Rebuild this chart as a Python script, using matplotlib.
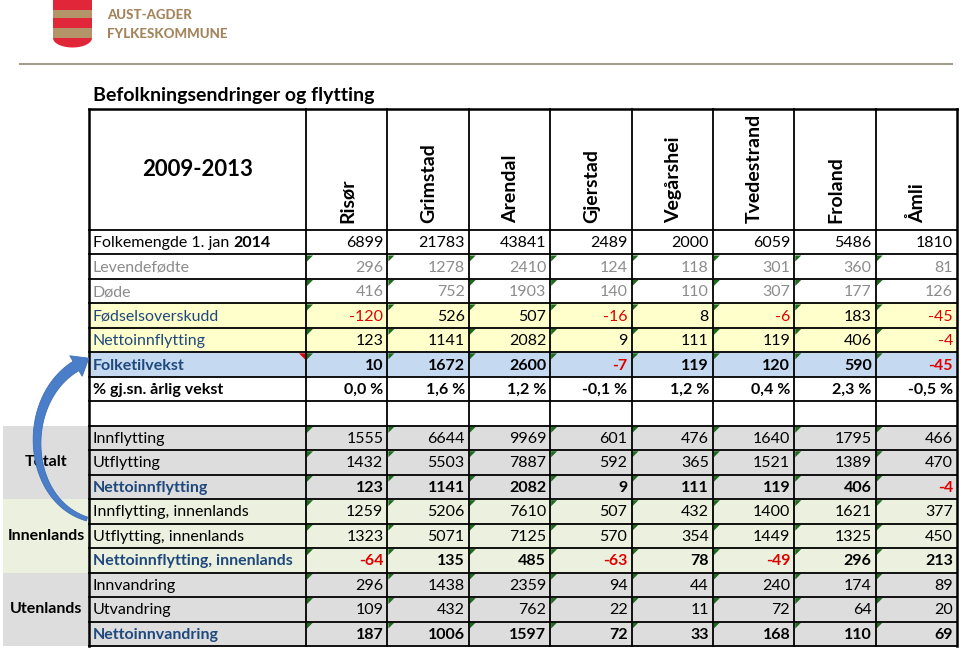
import matplotlib
matplotlib.use("Agg")
import matplotlib.pyplot as plt
from matplotlib.patches import Rectangle, Polygon
import numpy as np

# ---------------- data ----------------
municipalities = ['Risør', 'Grimstad', 'Arendal', 'Gjerstad', 'Vegårshei', 'Tvedestrand', 'Froland', 'Åmli']
period_label = '2009-2013'
title = 'Befolkningsendringer og flytting'

folkemengde = [6899, 21783, 43841, 2489, 2000, 6059, 5486, 1810]
levendefodte = [296, 1278, 2410, 124, 118, 301, 360, 81]
dode = [416, 752, 1903, 140, 110, 307, 177, 126]
fodselsoverskudd = [-120, 526, 507, -16, 8, -6, 183, -45]
nettoinnflytting = [123, 1141, 2082, 9, 111, 119, 406, -4]
folketilvekst = [10, 1672, 2600, -7, 119, 120, 590, -45]
vekst_pct = [0.0, 1.6, 1.2, -0.1, 1.2, 0.4, 2.3, -0.5]

innflytting = [1555, 6644, 9969, 601, 476, 1640, 1795, 466]
utflytting = [1432, 5503, 7887, 592, 365, 1521, 1389, 470]
netto_totalt = [123, 1141, 2082, 9, 111, 119, 406, -4]
innflytting_inn = [1259, 5206, 7610, 507, 432, 1400, 1621, 377]
utflytting_inn = [1323, 5071, 7125, 570, 354, 1449, 1325, 450]
netto_inn = [-64, 135, 485, -63, 78, -49, 296, 213]
innvandring = [296, 1438, 2359, 94, 44, 240, 174, 89]
utvandring = [109, 432, 762, 22, 11, 72, 64, 20]
netto_innvandring = [187, 1006, 1597, 72, 33, 168, 110, 69]

group_labels = ['Totalt', 'Innenlands', 'Utenlands']

# ---------------- styles ----------------
FONT = 'Lato'
plt.rcParams['font.family'] = [FONT, 'DejaVu Sans']
DARKBLUE = '#1F497D'
GRAY_TXT = '#8C8C8C'
RED = '#E00000'
YELLOW = '#FFFFCC'
BLUE_BG = '#C5D9F1'
GRAY_BG = '#DDDDDD'
GREEN_BG = '#EBF1DE'

# rows: (label, values, label_color, label_bold, value_bold, bg, value_color, fmt, red_neg, triangles)
rows = [
    ('Folkemengde 1. jan ', folkemengde, 'black', False, False, 'white', 'black', 'int', True, False),
    ('Levendefødte', levendefodte, GRAY_TXT, False, False, 'white', GRAY_TXT, 'int', True, True),
    ('Døde', dode, GRAY_TXT, False, False, 'white', GRAY_TXT, 'int', True, True),
    ('Fødselsoverskudd', fodselsoverskudd, DARKBLUE, False, False, YELLOW, 'black', 'int', True, True),
    ('Nettoinnflytting', nettoinnflytting, DARKBLUE, False, False, YELLOW, 'black', 'int', True, True),
    ('Folketilvekst', folketilvekst, DARKBLUE, True, True, BLUE_BG, 'black', 'int', True, True),
    ('% gj.sn. årlig vekst', vekst_pct, 'black', True, True, 'white', 'black', 'pct', False, False),
    ('', None, 'black', False, False, 'white', 'black', 'int', True, False),
    ('Innflytting', innflytting, 'black', False, False, GRAY_BG, 'black', 'int', True, True),
    ('Utflytting', utflytting, 'black', False, False, GRAY_BG, 'black', 'int', True, True),
    ('Nettoinnflytting', netto_totalt, DARKBLUE, True, True, GRAY_BG, 'black', 'int', True, True),
    ('Innflytting, innenlands', innflytting_inn, 'black', False, False, GREEN_BG, 'black', 'int', True, True),
    ('Utflytting, innenlands', utflytting_inn, 'black', False, False, GREEN_BG, 'black', 'int', True, True),
    ('Nettoinnflytting, innenlands', netto_inn, DARKBLUE, True, True, GREEN_BG, 'black', 'int', True, True),
    ('Innvandring', innvandring, 'black', False, False, GRAY_BG, 'black', 'int', True, True),
    ('Utvandring', utvandring, 'black', False, False, GRAY_BG, 'black', 'int', True, True),
    ('Nettoinnvandring', netto_innvandring, DARKBLUE, True, True, GRAY_BG, 'black', 'int', True, True),
]

# ---------------- layout (pixel space) ----------------
fig = plt.figure(figsize=(9.6, 6.48), dpi=100)
ax = fig.add_axes([0, 0, 1, 1])
ax.set_xlim(0, 960)
ax.set_ylim(648, 0)
ax.axis('off')

x_left = 89
x_label_right = 306
x_right = 957
ncol = len(municipalities)
col_w = (x_right - x_label_right) / ncol
col_edges = [x_label_right + i * col_w for i in range(ncol + 1)]
y_head_top = 109
y_head_bot = 230
row_h = (646 - y_head_bot) / len(rows)
row_edges = [y_head_bot + i * row_h for i in range(len(rows) + 1)]

FS = 11.5
HFS = 14

# Logo
shield_x0, shield_x1 = 53, 92
stripes = [(0, 10, '#E2263A'), (10, 18, '#B39468'), (18, 28, '#E2263A'), (28, 38, '#B39468')]
for y0, y1, c in stripes:
    ax.add_patch(Rectangle((shield_x0, y0), shield_x1 - shield_x0, y1 - y0, color=c, lw=0))
t = np.linspace(0, np.pi, 40)
bx = (shield_x0 + shield_x1) / 2 - (shield_x1 - shield_x0) / 2 * np.cos(t)
by = 38 + 9.5 * np.sin(t)
ax.add_patch(Polygon(np.column_stack([np.r_[shield_x0, bx, shield_x1], np.r_[38, by, 38]]), closed=True, color='#E2263A', lw=0))
ax.text(107, 15, 'AUST-AGDER', fontsize=9.5, fontweight='black', color='#A4845C', va='center', ha='left')
ax.text(107, 34, 'FYLKESKOMMUNE', fontsize=9.5, fontweight='black', color='#A4845C', va='center', ha='left')
ax.plot([20, 952], [64, 64], color='#A39D8D', lw=1.5)

# Title
ax.text(93, 96, title, fontsize=14, fontweight='bold', ha='left', va='center')

# Header
ax.text((x_left + x_label_right) / 2, 170, period_label, fontsize=16, fontweight='bold', ha='center', va='center')
for i, m in enumerate(municipalities):
    cx = (col_edges[i] + col_edges[i + 1]) / 2
    ax.text(cx + 1, 223, m, fontsize=HFS, fontweight='bold', rotation=90, ha='center', va='bottom')

# Group backgrounds on left
group_bgs = [GRAY_BG, GREEN_BG, GRAY_BG]
for g, (lab, bg) in enumerate(zip(group_labels, group_bgs)):
    r0 = 8 + 3 * g
    y0 = row_edges[r0]
    y1 = row_edges[r0 + 3]
    ax.add_patch(Rectangle((3, y0), x_left - 3, y1 - y0, color=bg, lw=0, zorder=0))
    ax.text(46, (y0 + y1) / 2, lab, fontsize=FS, fontweight='bold', ha='center', va='center', zorder=1)

renderer = fig.canvas.get_renderer()


def fmt_val(v, kind):
    if kind == 'pct':
        return ('%.1f' % v).replace('.', ',') + ' %'
    return str(v)


for r, (lab, vals, lc, lb, vb, bg, vc, kind, redneg, tri) in enumerate(rows):
    y0, y1 = row_edges[r], row_edges[r + 1]
    yc = (y0 + y1) / 2 + 1
    ax.add_patch(Rectangle((x_left, y0), x_right - x_left, y1 - y0, color=bg, lw=0, zorder=0))
    tx = ax.text(93, yc, lab, fontsize=FS, fontweight='bold' if lb else 'normal', color=lc, ha='left', va='center', zorder=3)
    if r == 0:
        bb = tx.get_window_extent(renderer=renderer)
        xd = ax.transData.inverted().transform((bb.x1, 0))[0]
        ax.text(xd, yc, '2014', fontsize=FS, fontweight='bold', color='black', ha='left', va='center', zorder=3)
    if vals is None:
        continue
    for i, v in enumerate(vals):
        color = RED if (redneg and v < 0) else vc
        ax.text(col_edges[i + 1] - 4, yc, fmt_val(v, kind), fontsize=FS, fontweight='bold' if vb else 'normal',
                color=color, ha='right', va='center', zorder=3)
        if tri:
            xa = col_edges[i] + 1
            ax.add_patch(Polygon([[xa, y0 + 1], [xa + 6, y0 + 1], [xa, y0 + 7]], closed=True, color='#1E6B1E', lw=0, zorder=4))
    if lab == 'Folketilvekst':
        xr = x_label_right - 1
        ax.add_patch(Polygon([[xr, y0 + 1], [xr - 6, y0 + 1], [xr, y0 + 7]], closed=True, color='#E00000', lw=0, zorder=4))

# Grid lines
lw = 1.3
for y in row_edges:
    ax.plot([x_left, x_right], [y, y], color='black', lw=lw, zorder=5, solid_capstyle='projecting')
ax.plot([x_left, x_right], [y_head_top, y_head_top], color='black', lw=1.8, zorder=5, solid_capstyle='projecting')
for x in [x_left] + col_edges:
    ax.plot([x, x], [y_head_top, row_edges[-1]], color='black', lw=1.8 if x in (x_left, x_right) else lw, zorder=5, solid_capstyle='projecting')

# Curved arrow drawn as tapered polygon along a cubic Bezier centreline
P = np.array([(87, 519), (25, 500), (20, 400), (76, 366)], dtype=float)
tt = np.linspace(0, 1, 80)[:, None]
C = ((1 - tt) ** 3) * P[0] + 3 * ((1 - tt) ** 2) * tt * P[1] + 3 * (1 - tt) * tt ** 2 * P[2] + tt ** 3 * P[3]
D = 3 * ((1 - tt) ** 2) * (P[1] - P[0]) + 6 * (1 - tt) * tt * (P[2] - P[1]) + 3 * tt ** 2 * (P[3] - P[2])
D = D / np.linalg.norm(D, axis=1, keepdims=True)
N = np.column_stack([-D[:, 1], D[:, 0]])
w = (2.0 + 3.5 * tt[:, 0])
left = C + N * w[:, None]
right = C - N * w[:, None]
dend = D[-1]
nend = N[-1]
tip = P[3] + dend * 15
hb1 = P[3] + nend * 12
hb2 = P[3] - nend * 12
shape = np.vstack([left, hb1[None], tip[None], hb2[None], right[::-1]])
ax.add_patch(Polygon(shape, closed=True, facecolor='#4A7EC9', edgecolor='#3F6FB5', lw=0.6, zorder=6))

fig.savefig('out.png', dpi=100)
